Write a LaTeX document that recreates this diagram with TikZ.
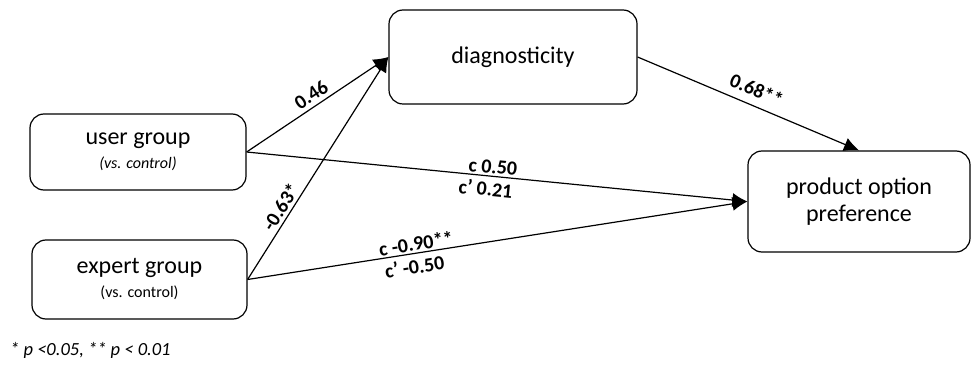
\documentclass[tikz,border=0pt]{standalone}
\usepackage{fontspec}
\setmainfont{Carlito}
\usetikzlibrary{arrows.meta}

\begin{document}
\begin{tikzpicture}[>={Latex[length=15pt,width=14pt]},x=1pt,y=-1pt,
    box/.style={draw,line width=1.2pt,rounded corners=14pt,align=center,inner sep=0pt,font=\fontsize{24}{27}\selectfont},
    lbl/.style={font=\fontsize{20}{22}\selectfont\bfseries,sloped,inner sep=2pt}]
    \useasboundingbox (0,0) rectangle (972,366);
    \node[box,minimum width=216pt,minimum height=76pt] (user) at (138,152)
        {user group\\[-3pt]{\fontsize{16}{18}\selectfont\itshape (vs. control)}};
    \node[box,minimum width=215pt,minimum height=79pt] (expert) at (139.5,279.5)
        {expert group\\[-3pt]{\fontsize{16}{18}\selectfont (vs. control)}};
    \node[box,minimum width=248pt,minimum height=94pt] (diag) at (513,57) {diagnosticity};
    \node[box,minimum width=222pt,minimum height=101pt] (prod) at (859,201.5) {product option\\preference};
    \begin{scope}[line width=1.2pt]
        \draw[->] (user.east) -- node[lbl,above=2pt,pos=0.5]{0.46} (diag.west);
        \draw[->] (expert.east) -- node[lbl,above=1pt,pos=0.3]{-0.63*} (diag.west);
        \draw[->] (diag.east) -- node[lbl,above=6pt,pos=0.51]{0.68**} (prod.north);
        \draw[->] (user.east) -- node[lbl,above,pos=0.49]{c 0.50} node[lbl,below=3pt,pos=0.48]{c' 0.21} (prod.west);
        \draw[->] (expert.east) -- node[lbl,above,pos=0.34]{c -0.90**} node[lbl,below=3pt,pos=0.33]{c' -0.50} (prod.west);
    \end{scope}
    \node[anchor=west,font=\fontsize{18.5}{20}\selectfont\itshape,inner sep=0pt] (note) at (10,350) {* p <0.05, ** p < 0.01};
\end{tikzpicture}
\end{document}
